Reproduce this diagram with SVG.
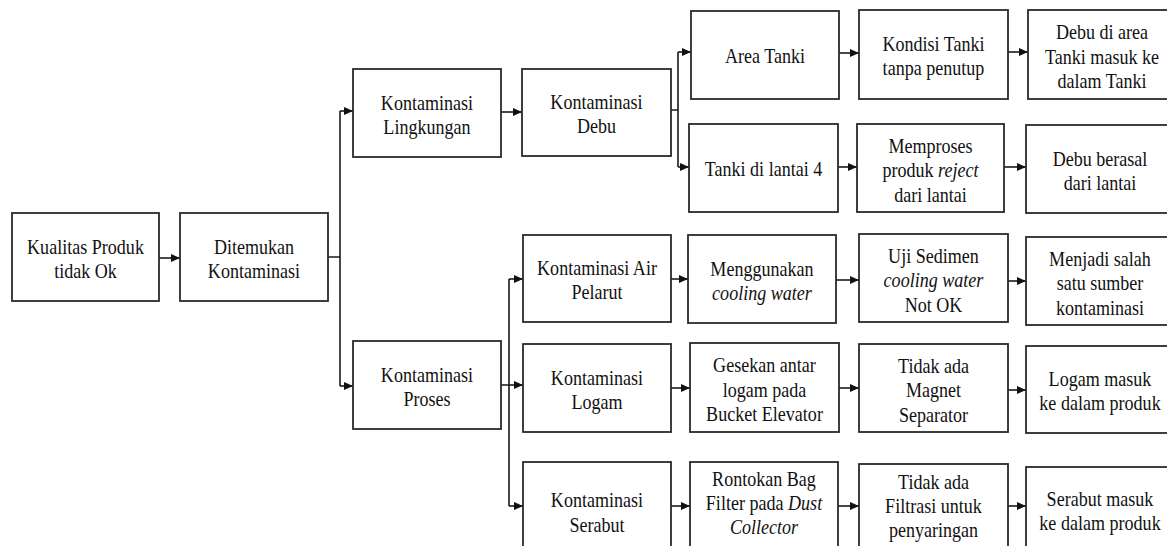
<svg xmlns="http://www.w3.org/2000/svg" width="1167" height="546" viewBox="0 0 1167 546">
<defs>
<marker id="ah" markerWidth="9" markerHeight="8" refX="9" refY="4" orient="auto" markerUnits="userSpaceOnUse"><path d="M0,0 L9,4 L0,8 z" fill="#111"/></marker>
<style>
.box{fill:#fff;stroke:#2a2a2a;stroke-width:1.8}
.t{font-family:'Liberation Serif','Tinos','Times New Roman','Noto Serif','DejaVu Serif',Times,serif;font-size:21px;fill:#111;text-anchor:middle}
.i{font-style:italic}
.c{fill:none;stroke:#1a1a1a;stroke-width:1.6}
.a{fill:none;stroke:#1a1a1a;stroke-width:1.6;marker-end:url(#ah)}
</style>
</defs>
<rect width="1167" height="546" fill="#fff"/>
<g id="connectors">
<path class="a" d="M159,258 H180"/>
<path class="c" d="M328,257 H340 M340,111 V386"/>
<path class="a" d="M340,111 H353"/>
<path class="a" d="M340,386 H353"/>
<path class="a" d="M501,112 H522"/>
<path class="c" d="M671,110 H678 M678,52 V167"/>
<path class="a" d="M678,52 H691"/>
<path class="a" d="M678,167 H689"/>
<path class="a" d="M839,53 H859"/>
<path class="a" d="M1008,52 H1028"/>
<path class="a" d="M838,167 H857"/>
<path class="a" d="M1004,167 H1026"/>
<path class="c" d="M501,385 H509 M509,279 V506"/>
<path class="a" d="M509,279 H523"/>
<path class="a" d="M509,385 H523"/>
<path class="a" d="M509,506 H523"/>
<path class="a" d="M671,279 H688"/>
<path class="a" d="M836,280 H859"/>
<path class="a" d="M1008,281 H1026"/>
<path class="a" d="M671,388 H690"/>
<path class="a" d="M839,388 H859"/>
<path class="a" d="M1008,390 H1026"/>
<path class="a" d="M671,506 H690"/>
<path class="a" d="M838,506 H859"/>
<path class="a" d="M1008,506 H1026"/>
</g>
<g id="n-kualitas"><rect class="box" x="12" y="213" width="147" height="88"/><text class="t" transform="translate(85.5,0) scale(0.86,1)"><tspan x="0" y="254">Kualitas Produk</tspan><tspan x="0" y="278">tidak Ok</tspan></text></g>
<g id="n-ditemukan"><rect class="box" x="180" y="213" width="148" height="88"/><text class="t" transform="translate(254,0) scale(0.86,1)"><tspan x="0" y="254">Ditemukan</tspan><tspan x="0" y="278">Kontaminasi</tspan></text></g>
<g id="n-lingkungan"><rect class="box" x="353" y="69" width="148" height="88"/><text class="t" transform="translate(427,0) scale(0.86,1)"><tspan x="0" y="110">Kontaminasi</tspan><tspan x="0" y="134">Lingkungan</tspan></text></g>
<g id="n-proses"><rect class="box" x="353" y="341" width="148" height="88"/><text class="t" transform="translate(427,0) scale(0.86,1)"><tspan x="0" y="382">Kontaminasi</tspan><tspan x="0" y="406">Proses</tspan></text></g>
<g id="n-debu"><rect class="box" x="522" y="69" width="149" height="87"/><text class="t" transform="translate(596.5,0) scale(0.86,1)"><tspan x="0" y="109.5">Kontaminasi</tspan><tspan x="0" y="133.5">Debu</tspan></text></g>
<g id="n-areatanki"><rect class="box" x="691" y="11" width="148" height="88"/><text class="t" transform="translate(765,0) scale(0.86,1)"><tspan x="0" y="63">Area Tanki</tspan></text></g>
<g id="n-kondisi"><rect class="box" x="859" y="10" width="149" height="89"/><text class="t" transform="translate(933.5,0) scale(0.86,1)"><tspan x="0" y="51.5">Kondisi Tanki</tspan><tspan x="0" y="75.5">tanpa penutup</tspan></text></g>
<g id="n-debuarea"><rect class="box" x="1028" y="10" width="148" height="89"/><text class="t" transform="translate(1102,0) scale(0.86,1)"><tspan x="0" y="39.5">Debu di area</tspan><tspan x="0" y="64">Tanki masuk ke</tspan><tspan x="0" y="88.5">dalam Tanki</tspan></text></g>
<g id="n-tanki4"><rect class="box" x="689" y="124" width="149" height="88"/><text class="t" transform="translate(763.5,0) scale(0.86,1)"><tspan x="0" y="176">Tanki di lantai 4</tspan></text></g>
<g id="n-memproses"><rect class="box" x="857" y="124" width="147" height="88"/><text class="t" transform="translate(930.5,0) scale(0.86,1)"><tspan x="0" y="153">Memproses</tspan><tspan x="0" y="177.5">produk <tspan class="i">reject</tspan></tspan><tspan x="0" y="202">dari lantai</tspan></text></g>
<g id="n-debuberasal"><rect class="box" x="1026" y="125" width="148" height="88"/><text class="t" transform="translate(1100,0) scale(0.86,1)"><tspan x="0" y="166">Debu berasal</tspan><tspan x="0" y="190">dari lantai</tspan></text></g>
<g id="n-airpelarut"><rect class="box" x="523" y="235" width="148" height="87"/><text class="t" transform="translate(597,0) scale(0.86,1)"><tspan x="0" y="275.5">Kontaminasi Air</tspan><tspan x="0" y="299.5">Pelarut</tspan></text></g>
<g id="n-menggunakan"><rect class="box" x="688" y="235" width="148" height="88"/><text class="t" transform="translate(762,0) scale(0.86,1)"><tspan x="0" y="276">Menggunakan</tspan><tspan x="0" y="300" class="i">cooling water</tspan></text></g>
<g id="n-ujisedimen"><rect class="box" x="859" y="234" width="149" height="88"/><text class="t" transform="translate(933.5,0) scale(0.86,1)"><tspan x="0" y="263">Uji Sedimen</tspan><tspan x="0" y="287.5" class="i">cooling water</tspan><tspan x="0" y="312">Not OK</tspan></text></g>
<g id="n-menjadi"><rect class="box" x="1026" y="237" width="148" height="88"/><text class="t" transform="translate(1100,0) scale(0.86,1)"><tspan x="0" y="266">Menjadi salah</tspan><tspan x="0" y="290.5">satu sumber</tspan><tspan x="0" y="315">kontaminasi</tspan></text></g>
<g id="n-logam"><rect class="box" x="523" y="344" width="148" height="88"/><text class="t" transform="translate(597,0) scale(0.86,1)"><tspan x="0" y="385">Kontaminasi</tspan><tspan x="0" y="409">Logam</tspan></text></g>
<g id="n-gesekan"><rect class="box" x="690" y="343" width="149" height="89"/><text class="t" transform="translate(764.5,0) scale(0.86,1)"><tspan x="0" y="372.5">Gesekan antar</tspan><tspan x="0" y="397">logam pada</tspan><tspan x="0" y="421.5">Bucket Elevator</tspan></text></g>
<g id="n-magnet"><rect class="box" x="859" y="344" width="149" height="88"/><text class="t" transform="translate(933.5,0) scale(0.86,1)"><tspan x="0" y="373">Tidak ada</tspan><tspan x="0" y="397.5">Magnet</tspan><tspan x="0" y="422">Separator</tspan></text></g>
<g id="n-logammasuk"><rect class="box" x="1026" y="346" width="148" height="87"/><text class="t" transform="translate(1100,0) scale(0.86,1)"><tspan x="0" y="386.5">Logam masuk</tspan><tspan x="0" y="410.5">ke dalam produk</tspan></text></g>
<g id="n-serabut"><rect class="box" x="523" y="462" width="148" height="100"/><text class="t" transform="translate(597,0) scale(0.86,1)"><tspan x="0" y="507">Kontaminasi</tspan><tspan x="0" y="532">Serabut</tspan></text></g>
<g id="n-rontokan"><rect class="box" x="690" y="462" width="148" height="100"/><text class="t" transform="translate(764,0) scale(0.86,1)"><tspan x="0" y="486">Rontokan Bag</tspan><tspan x="0" y="510">Filter pada <tspan class="i">Dust</tspan></tspan><tspan x="0" y="534" class="i">Collector</tspan></text></g>
<g id="n-filtrasi"><rect class="box" x="859" y="464" width="149" height="100"/><text class="t" transform="translate(933.5,0) scale(0.86,1)"><tspan x="0" y="489">Tidak ada</tspan><tspan x="0" y="513">Filtrasi untuk</tspan><tspan x="0" y="537">penyaringan</tspan></text></g>
<g id="n-serabutmasuk"><rect class="box" x="1026" y="467" width="148" height="100"/><text class="t" transform="translate(1100,0) scale(0.86,1)"><tspan x="0" y="506">Serabut masuk</tspan><tspan x="0" y="530">ke dalam produk</tspan></text></g>
</svg>
